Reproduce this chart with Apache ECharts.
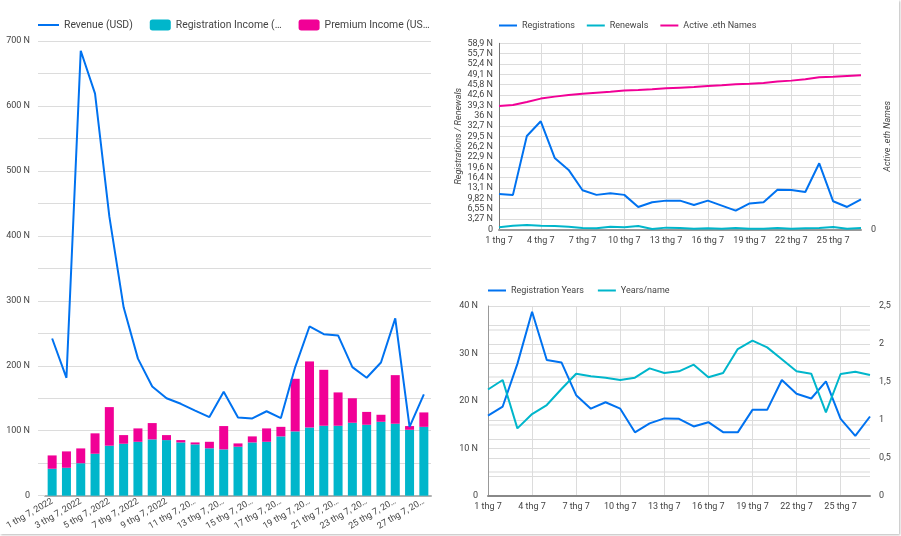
<!DOCTYPE html>
<html>
<head>
<meta charset="utf-8">
<style>
html,body{margin:0;padding:0;background:#fff;overflow:hidden}
#frame{position:absolute;left:0;top:0;width:899px;height:534px;box-shadow:1px 1px 2px #bbb;background:#fff}
#main{width:901px;height:536px;position:absolute;left:0;top:0}
</style>
<script src="https://cdn.jsdelivr.net/npm/echarts@6/dist/echarts.min.js"></script>
</head>
<body>
<div id="frame"></div>
<div id="main"></div>
<script>
const longDays = ["1 thg 7, 2022","2 thg 7, 2022","3 thg 7, 2022","4 thg 7, 2022","5 thg 7, 2022","6 thg 7, 2022","7 thg 7, 2022","8 thg 7, 2022","9 thg 7, 2022","10 thg 7, 20…","11 thg 7, 20…","12 thg 7, 20…","13 thg 7, 20…","14 thg 7, 20…","15 thg 7, 20…","16 thg 7, 20…","17 thg 7, 20…","18 thg 7, 20…","19 thg 7, 20…","20 thg 7, 20…","21 thg 7, 20…","22 thg 7, 20…","23 thg 7, 20…","24 thg 7, 20…","25 thg 7, 20…","26 thg 7, 20…","27 thg 7, 20…"];
const shortDays = ["1 thg 7","2 thg 7","3 thg 7","4 thg 7","5 thg 7","6 thg 7","7 thg 7","8 thg 7","9 thg 7","10 thg 7","11 thg 7","12 thg 7","13 thg 7","14 thg 7","15 thg 7","16 thg 7","17 thg 7","18 thg 7","19 thg 7","20 thg 7","21 thg 7","22 thg 7","23 thg 7","24 thg 7","25 thg 7","26 thg 7","27 thg 7"];
const revenue = [242,181.5,685,619,430,290,211,168,150,141.5,131,121,160,120.5,119,130,119.5,198,260.5,248.7,246.7,198,181.5,205,273,106,156];
const registrationIncome = [41.5,43,50,64.6,77,80,83,86.7,85.6,82,79,73,71.3,75.4,82,83,91.3,99,105,107.7,107.7,112.3,109.2,113.8,110.8,101.5,106];
const premiumIncome = [20.5,25.2,22.8,31.4,59.4,13.3,20.6,25.1,7.7,3.6,3,10,35.9,5.1,9.3,20.6,14.7,81,101.7,86.1,51.3,37.7,19.8,10.8,74.8,5.7,22.2];
const registrations = [11.2,10.9,29.55,34.2,22.6,18.8,12.35,10.9,11.4,10.9,7.07,8.55,9.08,9.08,7.7,9.08,7.5,5.9,8.2,8.55,12.56,12.45,11.8,20.9,8.87,7.07,9.5];
const renewals = [0.63,1.16,1.37,1.16,1.05,0.84,0.42,0.32,0.84,0.63,1.05,0.1,0.53,0.42,0.21,0.32,0.21,0.42,0.21,0.21,0.42,0.21,0.32,0.42,0.74,0.21,0.42];
const activeNames = [1989,2005,2054,2108,2140,2167,2188,2204,2220,2237,2247,2258,2274,2285,2296,2312,2323,2339,2349,2360,2382,2398,2419,2452,2462,2473,2484];
const registrationYears = [16.9,18.8,27.8,38.8,28.6,28.1,21.2,18.35,19.7,18.35,13.36,15.25,16.3,16.2,14.6,15.5,13.4,13.36,18.1,18.1,24.4,21.5,20.5,24.1,16.2,12.6,16.7];
const yearsPerName = [1.40,1.525,0.887,1.076,1.195,1.406,1.608,1.573,1.555,1.525,1.555,1.678,1.617,1.639,1.727,1.56,1.617,1.933,2.043,1.955,1.797,1.639,1.608,1.098,1.604,1.634,1.59];
const topTickLabels = ["0","3,27 N","6,55 N","9,82 N","13,1 N","16,4 N","19,6 N","22,9 N","26,2 N","29,5 N","32,7 N","36 N","39,3 N","42,6 N","45,8 N","49,1 N","52,4 N","55,7 N","58,9 N"];

const BLUE = '#0072f0', TEAL = '#00b6cb', PINK = '#f10096';
const FONT = 'Roboto', TXT = '#444';
const GRIDC = '#dcdcdc';
const txt = (s) => ({fontFamily: FONT, fontSize: s, color: TXT});
const line = (name, data, color, xi, yi, z) => ({
  type: 'line', name, data, xAxisIndex: xi, yAxisIndex: yi, showSymbol: false, symbol: 'none',
  lineStyle: {color, width: 2}, itemStyle: {color}, z: z || 3, animation: false
});
const bar = (name, data, color) => ({
  type: 'bar', name, data, stack: 'income', xAxisIndex: 0, yAxisIndex: 0, barWidth: 9,
  itemStyle: {color}, animation: false
});
const nFmt = v => v === 0 ? '0' : v + ' N';
const noDot = name => ({name, itemStyle: {opacity: 0}});

const option = {
  animation: false,
  backgroundColor: 'transparent',
  textStyle: {fontFamily: FONT},
  legend: [
    {left: 37, top: 19.5, padding: 0, itemWidth: 21, itemHeight: 11, itemGap: 17, itemTextGap: 2.5, textStyle: txt(10.4),
     data: [noDot('Revenue (USD)'), 'Registration Income (…', 'Premium Income (US…']},
    {left: 498, top: 21, padding: 0, itemWidth: 18, itemHeight: 11, itemGap: 11, itemTextGap: 3, textStyle: txt(9),
     data: [noDot('Registrations'), noDot('Renewals'), noDot('Active .eth Names')]},
    {left: 487, top: 286, padding: 0, itemWidth: 18, itemHeight: 11, itemGap: 13, itemTextGap: 3, textStyle: txt(9),
     data: [noDot('Registration Years'), noDot('Years/name')]}
  ],
  grid: [
    {left: 45, right: 470, top: 41, height: 454.7, outerBoundsMode: 'none'},
    {left: 499, right: 40, top: 43.3, height: 186, outerBoundsMode: 'none'},
    {left: 488, right: 31, top: 306, height: 189.7, outerBoundsMode: 'none'}
  ],
  xAxis: [
    {type: 'category', gridIndex: 0, data: longDays, boundaryGap: true,
     axisLine: {lineStyle: {color: '#b0b0b0', width: 2}}, axisTick: {show: false},
     axisLabel: Object.assign(txt(9), {interval: 1, rotate: 30, margin: 5, hideOverlap: false})},
    {type: 'category', gridIndex: 1, data: shortDays, boundaryGap: false,
     axisLine: {lineStyle: {color: '#999', width: 2}}, axisTick: {show: false},
     axisLabel: Object.assign(txt(9), {interval: 2, margin: 7}),
     splitLine: {show: true, interval: 2, lineStyle: {color: GRIDC, width: 1}}},
    {type: 'category', gridIndex: 2, data: shortDays, boundaryGap: false,
     axisLine: {lineStyle: {color: '#888', width: 2}}, axisTick: {show: false},
     axisLabel: Object.assign(txt(9), {interval: 2, margin: 7}),
     splitLine: {show: true, interval: 2, lineStyle: {color: GRIDC, width: 1}}}
  ],
  yAxis: [
    {type: 'value', gridIndex: 0, min: 0, max: 700, interval: 50,
     axisLine: {show: false},
     axisTick: {show: true, length: 7, lineStyle: {color: GRIDC, width: 1}},
     axisLabel: Object.assign(txt(9), {margin: 15, padding: [2, 0, 0, 0], formatter: v => v % 100 === 0 ? nFmt(v) : ''}),
     splitLine: {lineStyle: {color: GRIDC, width: 1}}},
    {type: 'value', gridIndex: 1, min: 0, max: 58.9, interval: 58.9 / 18,
     name: 'Registrations / Renewals', nameLocation: 'middle', nameRotate: 90, nameGap: 30,
     nameTextStyle: Object.assign(txt(9), {fontStyle: 'italic'}),
     axisLine: {show: true, onZero: false, lineStyle: {color: '#777', width: 1}},
     axisTick: {show: false},
     axisLabel: Object.assign(txt(9), {margin: 6, padding: [4, 0, 0, 0], formatter: v => topTickLabels[Math.round(v / (58.9 / 18))]}),
     splitLine: {lineStyle: {color: GRIDC, width: 1}}},
    {type: 'value', gridIndex: 1, position: 'right', min: 0, max: 3000, interval: 3000,
     name: 'Active .eth Names', nameLocation: 'middle', nameRotate: 90, nameGap: 22,
     nameTextStyle: Object.assign(txt(9), {fontStyle: 'italic'}),
     axisLine: {show: false}, axisTick: {show: false},
     axisLabel: Object.assign(txt(9), {margin: 10, formatter: v => v === 0 ? '0' : ''}),
     splitLine: {show: false}},
    {type: 'value', gridIndex: 2, min: 0, max: 40, interval: 10,
     axisLine: {show: true, onZero: false, lineStyle: {color: '#999', width: 1}},
     axisTick: {show: false},
     axisLabel: Object.assign(txt(9), {margin: 10, padding: [2, 0, 0, 0], formatter: nFmt}),
     splitLine: {lineStyle: {color: GRIDC, width: 1}},
     minorTick: {show: false, splitNumber: 2},
     minorSplitLine: {show: true, lineStyle: {color: '#ececec', width: 2}}},
    {type: 'value', gridIndex: 2, position: 'right', min: 0, max: 2.5, interval: 0.5,
     axisLine: {show: false}, axisTick: {show: false},
     axisLabel: Object.assign(txt(9), {margin: 9, padding: [2, 0, 0, 0], formatter: v => String(v).replace('.', ',')}),
     splitLine: {show: true, lineStyle: {color: GRIDC, width: 1}},
     minorTick: {show: false, splitNumber: 2},
     minorSplitLine: {show: true, lineStyle: {color: GRIDC, width: 1}}}
  ],
  series: [
    line('Revenue (USD)', revenue, BLUE, 0, 0, 5),
    bar('Registration Income (…', registrationIncome, TEAL),
    bar('Premium Income (US…', premiumIncome, PINK),
    line('Registrations', registrations, BLUE, 1, 1),
    line('Renewals', renewals, TEAL, 1, 1),
    line('Active .eth Names', activeNames, PINK, 1, 2),
    line('Registration Years', registrationYears, BLUE, 2, 3),
    line('Years/name', yearsPerName, TEAL, 2, 4)
  ]
};
const chart = echarts.init(document.getElementById('main'), null, {renderer: 'canvas'});
chart.setOption(option);
</script>
</body>
</html>
